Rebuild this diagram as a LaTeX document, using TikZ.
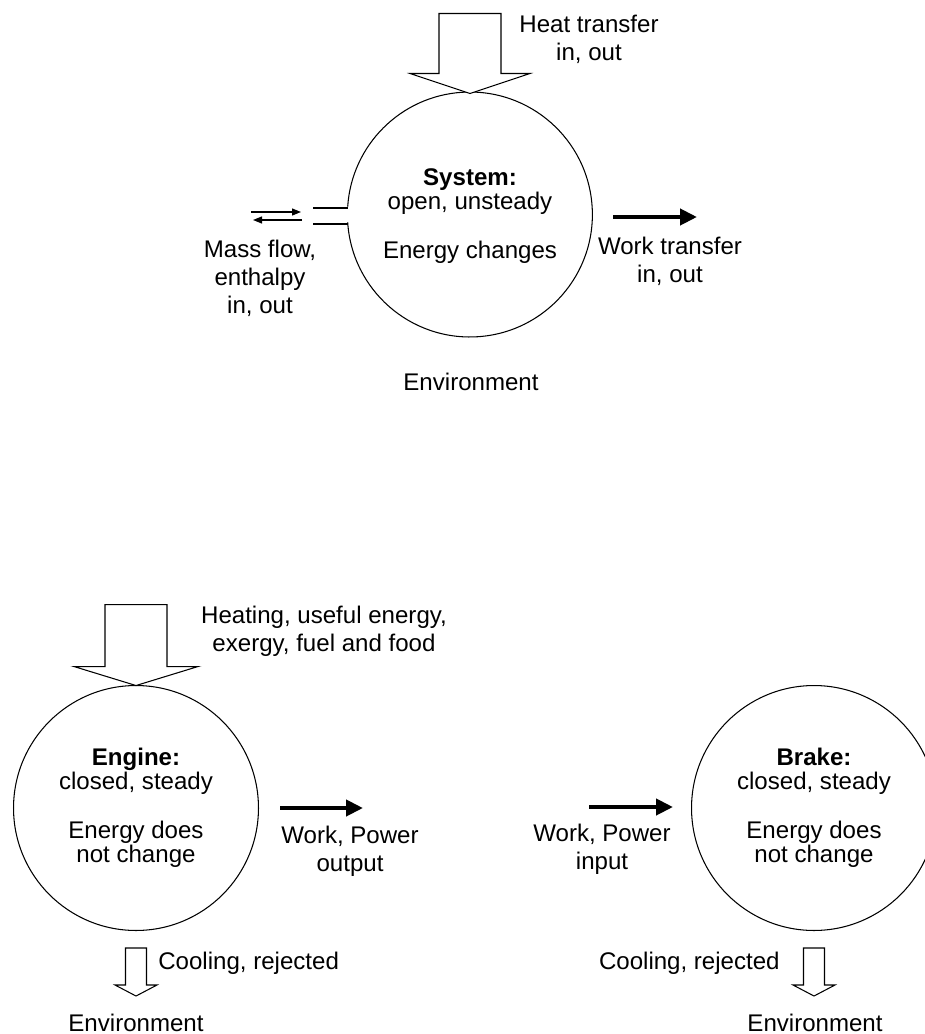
\documentclass[tikz,border=0pt]{standalone}
\usepackage{fontspec}
\setmainfont{Liberation Sans}
\usepackage{tikz}
\usetikzlibrary{arrows.meta}

\begin{document}
\begin{tikzpicture}[x=0.02cm,y=-0.02cm,
		font=\fontsize{13.7}{15.9}\selectfont,
		ball/.style={circle,draw,line width=0.6pt,minimum size=4.9cm,inner sep=0pt,outer sep=0pt,align=center,font=\fontsize{13.7}{13.7}\selectfont},
		blockarr/.style={draw,line width=0.6pt,line join=miter,fill=white},
		workarr/.style={-{Triangle[length=0.34cm,width=0.32cm]},line width=2.3pt},
		flowarr/.style={-{Triangle[length=0.18cm,width=0.14cm]},line width=0.7pt},
		lbl/.style={align=center,inner sep=0pt}]
		\useasboundingbox (0,0) rectangle (925,1034);
		%
		\node[ball,draw=none] (sys) at (470,216) {\textbf{System:}\\open, unsteady\\[14.2pt]Energy changes};
		\draw[line width=0.6pt] (sys.183.7) arc[start angle=183.7,end angle=536.3,radius=2.45cm];
		\coordinate (portU) at (313,208);
		\coordinate (portL) at (313,224);
		\draw[line width=0.6pt] (portU) -- (portU -| sys.176.3);
		\draw[line width=0.6pt] (portL) -- (portL -| sys.183.7);
		\draw[blockarr] (sys.north) -- ++(-60,-20) -- ++(29,0) -- ++(0,-60) -- ++(62,0) -- ++(0,60) -- ++(29,0) -- cycle;
		%
		\coordinate (mf1) at (251,212);
		\coordinate (mf2) at (301,212);
		\coordinate (mf3) at (302,220);
		\coordinate (mf4) at (253,220);
		\path[flowarr] (mf1) edge (mf2) (mf3) edge (mf4);
		\coordinate (w1a) at (613,217);
		\coordinate (w1b) at (697,217);
		\draw[workarr] (w1a) -- (w1b);
		%
		\node[lbl] (heatlbl) at (589,39) {Heat transfer\\in, out};
		\node[lbl] (masslbl) at (260,278) {Mass flow,\\enthalpy\\in, out};
		\node[lbl] (worklbl) at (670,261) {Work transfer\\in, out};
		\node (env1) at (471,382) {Environment};
		%
		\node[ball] (engine) at (136,808) {\textbf{Engine:}\\closed, steady\\[14.2pt]Energy does\\not change};
		\draw[blockarr] (engine.north) -- ++(-62,-19) -- ++(31,0) -- ++(0,-62) -- ++(62,0) -- ++(0,62) -- ++(31,0) -- cycle;
		\coordinate (cool1) at (136,996);
		\draw[blockarr] (cool1) -- ++(-21,-11) -- ++(10.5,0) -- ++(0,-37) -- ++(21,0) -- ++(0,37) -- ++(10.5,0) -- cycle;
		\coordinate (w2a) at (280,808);
		\coordinate (w2b) at (363,808);
		\draw[workarr] (w2a) -- (w2b);
		\node[lbl] (heatinglbl) at (324,631) {Heating, useful energy,\\exergy, fuel and food};
		\node[lbl] (outlbl) at (350,851) {Work, Power\\output};
		\node[lbl,anchor=west] (coollbl1) at (158,963) {Cooling, rejected};
		\node (env2) at (136,1023) {Environment};
		%
		\node[ball] (brake) at (814,808) {\textbf{Brake:}\\closed, steady\\[14.2pt]Energy does\\not change};
		\coordinate (cool2) at (814,996);
		\draw[blockarr] (cool2) -- ++(-21,-11) -- ++(10.5,0) -- ++(0,-37) -- ++(21,0) -- ++(0,37) -- ++(10.5,0) -- cycle;
		\coordinate (w3a) at (589,807);
		\coordinate (w3b) at (673,807);
		\draw[workarr] (w3a) -- (w3b);
		\node[lbl] (inlbl) at (602,849) {Work, Power\\input};
		\node[lbl,anchor=east] (coollbl2) at (780,963) {Cooling, rejected};
		\node (env3) at (815,1023) {Environment};
\end{tikzpicture}
\end{document}
